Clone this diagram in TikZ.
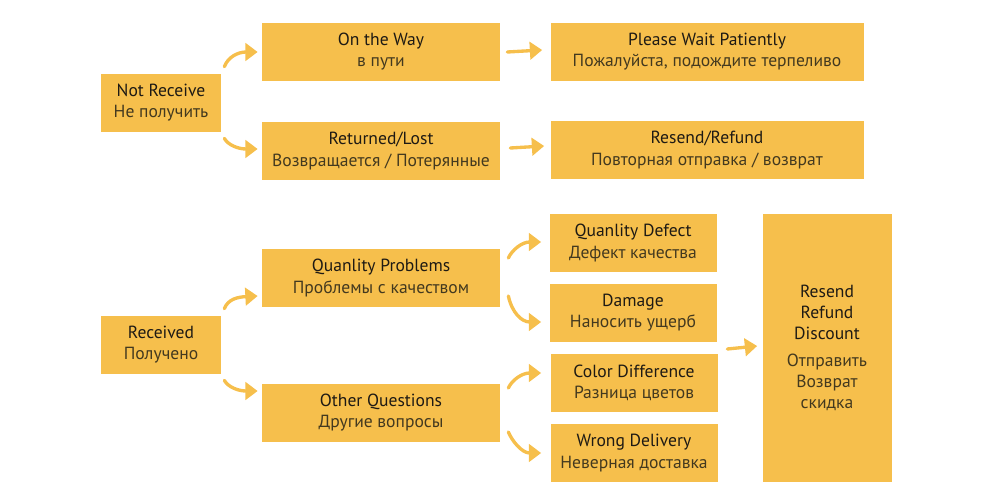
\documentclass[tikz,border=0pt]{standalone}
\usepackage{fontspec}
\setmainfont{PT Sans}
\usetikzlibrary{arrows.meta,calc}
\definecolor{boxfill}{HTML}{F6BF4C}
\definecolor{engtext}{HTML}{1E1A14}
\definecolor{rutext}{HTML}{43391F}
\newcommand{\twoline}[2]{{\color{engtext}#1}\\{\color{rutext}#2}}
\begin{document}
\begin{tikzpicture}[x=0.02cm,y=-0.02cm,
    box/.style={fill=boxfill,align=center,inner sep=0pt,
        font=\fontsize{10}{12}\selectfont,minimum height=58*0.02cm},
    short/.style={box,minimum width=120*0.02cm},
    mid/.style={box,minimum width=238*0.02cm},
    wide/.style={box,minimum width=313*0.02cm},
    narrow/.style={box,minimum width=167*0.02cm},
    arr/.style={draw=boxfill,line width=1.9pt,line cap=round,
        -{Triangle[length=7pt,width=10pt]}}]
    \useasboundingbox (0,0) rectangle (1000,500);
    % not received branch
    \node[short] (nr) at (161,103) {\twoline{Not Receive}{Не получить}};
    \node[mid] (way) at (381,52) {\twoline{On the Way}{в пути}};
    \node[mid] (lost) at (381,151) {\twoline{Returned/Lost}{Возвращается / Потерянные}};
    \node[wide] (wait) at (707,52) {\twoline{Please Wait Patiently}{Пожалуйста, подождите терпеливо}};
    \node[wide] (resend) at (707,150) {\twoline{Resend/Refund}{Повторная отправка / возврат}};
    % received branch
    \node[short] (rcv) at (161,345) {\twoline{Received}{Получено}};
    \node[mid] (qp) at (381,278) {\twoline{Quanlity Problems}{Проблемы с качеством}};
    \node[mid] (oq) at (381,413) {\twoline{Other Questions}{Другие вопросы}};
    \node[narrow] (qd) at (633,243) {\twoline{Quanlity Defect}{Дефект качества}};
    \node[narrow] (dmg) at (633,313) {\twoline{Damage}{Наносить ущерб}};
    \node[narrow] (cdiff) at (634,383) {\twoline{Color Difference}{Разница цветов}};
    \node[narrow] (wrong) at (634,453) {\twoline{Wrong Delivery}{Неверная доставка}};
    \node[box,minimum width=129*0.02cm,minimum height=268*0.02cm] (fix) at (827,348)
        {\color{engtext}Resend\\\color{engtext}Refund\\\color{engtext}Discount\\[3pt]
         \color{rutext}Отправить\\\color{rutext}Возврат\\\color{rutext}скидка};
    \coordinate (gap) at ($(dmg.south east)!0.5!(cdiff.north east)$);
    % arrows
    \draw[arr] ($(nr.north east)+(3,-7)$) .. controls (228,57) and (238,52) .. ($(way.west)+(-4,0)$);
    \draw[arr] ($(nr.south east)+(3,6)$) .. controls (228,145) and (238,149) .. ($(lost.west)+(-4,-2)$);
    \draw[arr] ($(way.east)+(7,0)$) -- ($(wait.west)+(-8,-2)$);
    \draw[arr] ($(lost.east)+(10,-3)$) -- ($(resend.west)+(-6,-4)$);
    \draw[arr] ($(rcv.north east)+(3,-7)$) .. controls (228,299) and (238,297) .. ($(qp.west)+(-4,18)$);
    \draw[arr] ($(rcv.south east)+(3,6)$) .. controls (228,387) and (238,391) .. ($(oq.west)+(-4,-22)$);
    \draw[arr] ($(qp.east)+(8,-20)$) .. controls (512,250) and (522,242) .. ($(qd.west)+(-8,-1)$);
    \draw[arr] ($(qp.east)+(8,18)$) .. controls (512,313) and (522,322) .. ($(dmg.west)+(-8,9)$);
    \draw[arr] ($(oq.east)+(8,-25)$) .. controls (512,380) and (522,373) .. ($(cdiff.west)+(-9,-10)$);
    \draw[arr] ($(oq.east)+(8,19)$) .. controls (512,441) and (522,453) .. ($(wrong.west)+(-9,0)$);
    \draw[arr] ($(gap)+(10,1)$) -- ($(fix.west)+(-5,-2)$);
\end{tikzpicture}
\end{document}
